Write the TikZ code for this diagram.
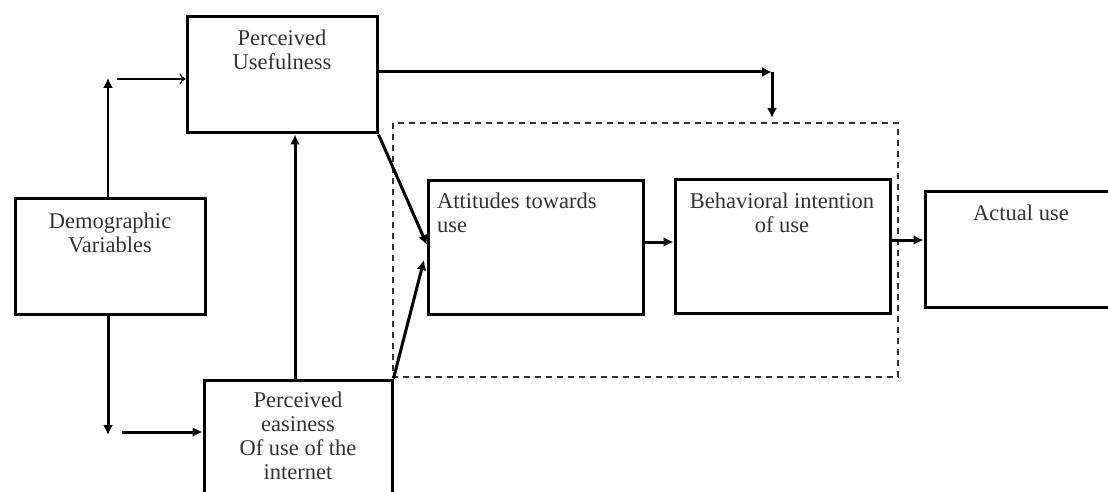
\documentclass[tikz,border=0pt]{standalone}
\usepackage{fontspec}
\setmainfont{Liberation Serif}
\usetikzlibrary{arrows.meta}
\tikzset{
  box/.style={draw=black, line width=3pt, rectangle, inner sep=0pt},
  txt/.style={inner sep=0pt, align=center, text=black!80, font=\fontsize{22.5}{24}\selectfont},
  thickarr/.style={line width=3pt, -{Latex[length=10pt,width=10pt]}},
  thinarr/.style={line width=1.3pt, -{To[length=6pt,width=11pt]}},
  upline/.style={line width=1.5pt, -{Latex[length=10pt,width=10pt]}},
  group/.style={draw=black!80, line width=1.6pt, dash pattern=on 6pt off 5pt},
}
\begin{document}
\begin{tikzpicture}[x=1pt,y=-1pt]
\useasboundingbox[fill=white] (0,0) rectangle (1108,492);

% boxes
\node[box, minimum width=190pt, minimum height=116pt] (pu)  at (282,75) {};
\node[box, minimum width=190pt, minimum height=116pt] (dem) at (110,256) {};
\node[box, minimum width=188pt, minimum height=130pt] (pe)  at (298,445) {};
\node[box, minimum width=215pt, minimum height=134pt] (att) at (535.5,247) {};
\node[box, minimum width=215pt, minimum height=134pt] (beh) at (782.5,246) {};
\node[box, minimum width=195pt, minimum height=116pt] (act) at (1022.5,249) {};

% dashed group
\draw[group] (393,123) rectangle (898,377);

% texts
\node[txt, anchor=north] (tpu)  at (282,30)  {Perceived\\Usefulness};
\node[txt, anchor=north] (tdem) at (110,213) {Demographic\\Variables};
\node[txt, anchor=north] (tpe)  at (298,392) {Perceived\\easiness\\Of use of the\\internet};
\node[txt, anchor=north west, align=left] (tatt) at (437,193) {Attitudes towards\\use};
\node[txt, anchor=north] (tbeh) at (782,193) {Behavioral intention\\of use};
\node[txt, anchor=north] (tact) at (1021,205) {Actual use};

% helper coordinates
\coordinate (demup) at (108,78);
\coordinate (thinstart) at (117,79);
\coordinate (demdown) at (108,435);
\coordinate (hstart) at (122,432);
\coordinate (corner) at (772,72);
\coordinate (cornerend) at (772,118);
\coordinate (attin1) at (427,245);
\coordinate (attin2) at (424,260);

% connectors
\draw[upline] (dem.north -| demup) -- (demup);
\draw[thinarr] (thinstart) -- (thinstart -| pu.west);
\draw[thickarr] (dem.south -| demdown) -- (demdown);
\draw[thickarr] (hstart) -- (hstart -| pe.west);
\draw[thickarr] (pe.north -| 295,0) -- (pu.south -| 295,0);
\draw[thickarr] (pu.east |- corner) -- (corner);
\draw[thickarr] (corner) -- (cornerend);
\draw[thickarr] (pu.south east) -- (attin1);
\draw[thickarr] (pe.north east) -- (attin2);
\draw[thickarr] (att.east |- 0,242) -- (beh.west |- 0,242);
\draw[thickarr] (beh.east |- 0,240) -- (act.west |- 0,240);
\end{tikzpicture}
\end{document}
